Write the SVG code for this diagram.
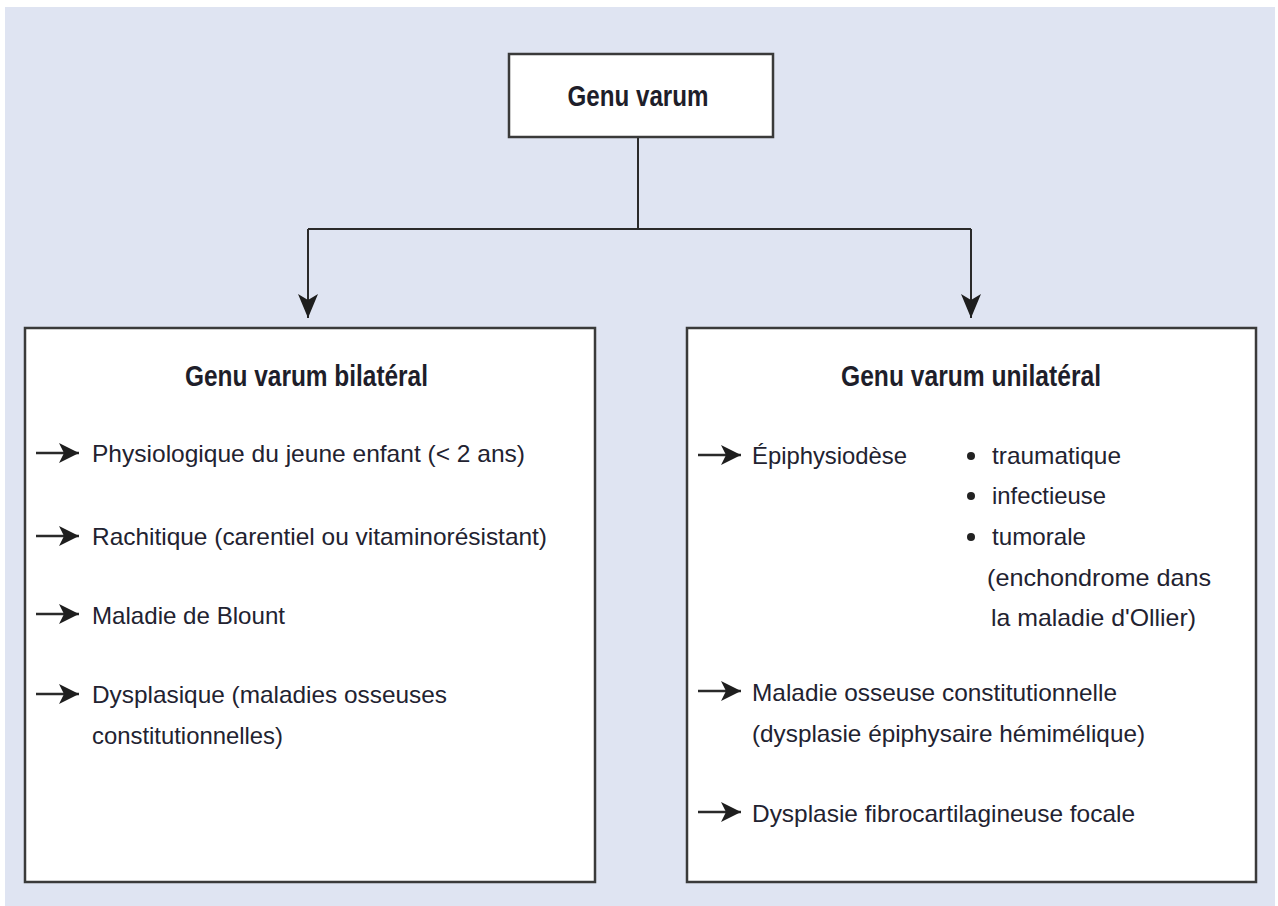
<svg xmlns="http://www.w3.org/2000/svg" width="1278" height="906" viewBox="0 0 1278 906">
<style>
.box{fill:#ffffff;stroke:#3a3a3a;stroke-width:2.5}
.title{font-family:"Liberation Sans",Arial,sans-serif;font-weight:bold;font-size:29px;fill:#1e1e2a}
.txt{font-family:"Liberation Sans",Arial,sans-serif;font-size:24px;fill:#222230}
.conn{fill:none;stroke:#2a2a2a;stroke-width:2}
.item{fill:none;stroke:#2a2a2a;stroke-width:2.4}
.bul{fill:#222}
</style>
<defs>
<marker id="ah" viewBox="0 0 24 20" refX="24" refY="10" markerWidth="24" markerHeight="20" markerUnits="userSpaceOnUse" orient="auto">
<path d="M0,0 L24,10 L0,20 L6,10 Z" fill="#1e1e1e"/>
</marker>
<marker id="sa" viewBox="0 0 20 20" refX="20" refY="10" markerWidth="20" markerHeight="20" markerUnits="userSpaceOnUse" orient="auto">
<path d="M0,0 L20,10 L0,20 L5,10 Z" fill="#1e1e1e"/>
</marker>
</defs>
<rect x="5" y="7" width="1270" height="899" fill="#dfe4f2"/>

<g id="connectors">
<path class="conn" d="M638 137 V229 M308 229 H971"/>
<path class="conn" d="M308 229 V318" marker-end="url(#ah)"/>
<path class="conn" d="M971 229 V318" marker-end="url(#ah)"/>
</g>

<g id="root">
<rect class="box" x="509" y="54" width="264" height="83"/>
<text class="title" x="638" y="106" text-anchor="middle" textLength="141" lengthAdjust="spacingAndGlyphs">Genu varum</text>
</g>

<g id="bilateral">
<rect class="box" x="25" y="328" width="570" height="554"/>
<text class="title" x="185" y="386" textLength="243" lengthAdjust="spacingAndGlyphs">Genu varum bilatéral</text>
<path class="item" d="M36 453 H79" marker-end="url(#sa)"/>
<text class="txt" x="92" y="462" textLength="433" lengthAdjust="spacingAndGlyphs">Physiologique du jeune enfant (&lt; 2 ans)</text>
<path class="item" d="M36 536 H79" marker-end="url(#sa)"/>
<text class="txt" x="92" y="545" textLength="455" lengthAdjust="spacingAndGlyphs">Rachitique (carentiel ou vitaminorésistant)</text>
<path class="item" d="M36 614 H79" marker-end="url(#sa)"/>
<text class="txt" x="92" y="624" textLength="193" lengthAdjust="spacingAndGlyphs">Maladie de Blount</text>
<path class="item" d="M36 694 H79" marker-end="url(#sa)"/>
<text class="txt" x="92" y="703" textLength="355" lengthAdjust="spacingAndGlyphs">Dysplasique (maladies osseuses</text>
<text class="txt" x="92" y="744" textLength="191" lengthAdjust="spacingAndGlyphs">constitutionnelles)</text>
</g>

<g id="unilateral">
<rect class="box" x="687" y="328" width="569" height="554"/>
<text class="title" x="841" y="386" textLength="260" lengthAdjust="spacingAndGlyphs">Genu varum unilatéral</text>
<path class="item" d="M698 455 H741" marker-end="url(#sa)"/>
<text class="txt" x="752" y="464" textLength="155" lengthAdjust="spacingAndGlyphs">Épiphysiodèse</text>
<circle class="bul" cx="971" cy="456" r="4"/>
<text class="txt" x="992" y="464" textLength="129" lengthAdjust="spacingAndGlyphs">traumatique</text>
<circle class="bul" cx="971" cy="496" r="4"/>
<text class="txt" x="992" y="504" textLength="114" lengthAdjust="spacingAndGlyphs">infectieuse</text>
<circle class="bul" cx="971" cy="537" r="4"/>
<text class="txt" x="992" y="545" textLength="94" lengthAdjust="spacingAndGlyphs">tumorale</text>
<text class="txt" x="987" y="586" textLength="224" lengthAdjust="spacingAndGlyphs">(enchondrome dans</text>
<text class="txt" x="991" y="626" textLength="205" lengthAdjust="spacingAndGlyphs">la maladie d'Ollier)</text>
<path class="item" d="M698 691 H741" marker-end="url(#sa)"/>
<text class="txt" x="752" y="701" textLength="365" lengthAdjust="spacingAndGlyphs">Maladie osseuse constitutionnelle</text>
<text class="txt" x="752" y="742" textLength="393" lengthAdjust="spacingAndGlyphs">(dysplasie épiphysaire hémimélique)</text>
<path class="item" d="M698 812 H741" marker-end="url(#sa)"/>
<text class="txt" x="752" y="822" textLength="383" lengthAdjust="spacingAndGlyphs">Dysplasie fibrocartilagineuse focale</text>
</g>
</svg>
